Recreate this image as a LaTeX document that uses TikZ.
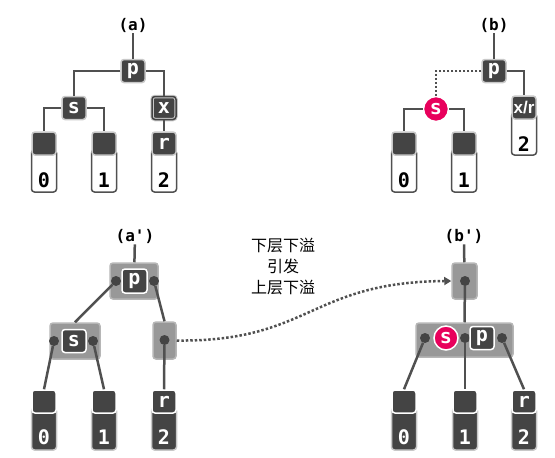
\documentclass[tikz,border=0pt]{standalone}
\usepackage{fontspec}
\setmonofont{DejaVu Sans Mono}
\newfontfamily\cjk{Noto Sans CJK SC}
\newfontfamily\narrow{Liberation Sans}
\usetikzlibrary{arrows.meta}
\definecolor{keyfill}{RGB}{68,68,68}
\definecolor{rim}{RGB}{200,200,200}
\definecolor{grpfill}{RGB}{152,152,152}
\definecolor{grprim}{RGB}{182,182,182}
\definecolor{wirec}{RGB}{80,80,80}
\definecolor{hot}{RGB}{232,0,92}
\tikzset{
  key/.style={draw=rim, fill=keyfill, line width=1.5pt, rounded corners=3pt,
    minimum width=24pt, minimum height=23pt, inner sep=0pt, text=white,
    font=\ttfamily\bfseries\fontsize{20}{20}\selectfont},
  keyw/.style={key, draw=white},
  slot/.style={draw=wirec, fill=white, line width=1.5pt, rounded corners=3pt,
    minimum width=25pt, inner sep=0pt},
  slotd/.style={draw=rim, fill=keyfill, line width=1.5pt, rounded corners=3pt,
    minimum width=25pt, inner sep=0pt},
  digit/.style={inner sep=0pt, font=\ttfamily\bfseries\fontsize{20}{20}\selectfont},
  tag/.style={inner sep=1pt, font=\ttfamily\bfseries\fontsize{16}{16}\selectfont},
  grp/.style={draw=grprim, fill=grpfill, line width=1.5pt, rounded corners=3pt,
    inner sep=0pt},
  dot/.style={circle, fill=wirec!85!black, minimum size=10pt, inner sep=0pt},
  hotc/.style={circle, fill=hot, draw=white, line width=1.5pt, minimum size=25pt,
    inner sep=0pt, text=white, font=\ttfamily\bfseries\fontsize{20}{20}\selectfont},
  wire/.style={draw=wirec, line width=2.5pt},
}
\begin{document}
\begin{tikzpicture}[x=1pt,y=-1pt]
\useasboundingbox (0,0) rectangle (555,458);
% (a)
\node[tag] (la) at (133,25) {(a)};
\node[key] (pa) at (133,71) {p};
\node[key] (sa) at (74,108) {s};
\node[key, line width=1pt, double=keyfill, double distance=1.5pt] (xa) at (164,108) {x};
\foreach \x/\n/\t/\d in {44/a0/{}/0,104/a1/{}/1,164/a2/r/2}{
  \node[slot, minimum height=42pt] (\n-b) at (\x,171) {};
  \node[digit] (\n-d) at (\x,180) {\d};
  \node[key] (\n) at (\x,143.5) {\t};
}
\draw[wire] (la) -- (pa);
\draw[wire] (pa.west) -| (sa.north);
\draw[wire] (pa.east) -| (xa.north);
\draw[wire] (sa.west) -| (a0.north);
\draw[wire] (sa.east) -| (a1.north);
\draw[wire] (xa) -- (a2);
% (b)
\node[tag] (lb) at (494,25) {(b)};
\node[key] (pb) at (494,71) {p};
\node[hotc] (sb) at (436,109) {s};
\foreach \x/\n/\d in {404/b0/0,464/b1/1}{
  \node[slot, minimum height=42pt] (\n-b) at (\x,171) {};
  \node[digit] (\n-d) at (\x,180) {\d};
  \node[key] (\n) at (\x,143.5) {};
}
\node[slot, minimum height=42pt] (b2-b) at (524,134) {};
\node[digit] (b2-d) at (524,144) {2};
\node[key, font=\narrow\bfseries\fontsize{17}{17}\selectfont] (b2) at (524,107.5) {x/r};
\draw[wire] (lb) -- (pb);
\draw[wire, line width=2pt, dash pattern=on 2pt off 2pt] (pb.west) -| (sb.north);
\draw[wire] (pb.east) -| (b2.north);
\draw[wire] (sb.west) -| (b0.north);
\draw[wire] (sb.east) -| (b1.north);
% (a')
\node[tag] (lc) at (135,236) {(a')};
\node[grp, minimum width=48pt, minimum height=36pt] (gp) at (134,281) {};
\node[keyw, minimum width=25pt, minimum height=24pt] (pc) at (134.5,281) {p};
\node[dot] (pcl) at (116,281) {};
\node[dot] (pcr) at (154,281) {};
\node[grp, minimum width=50pt, minimum height=36pt] (gs) at (75,341) {};
\node[keyw] (sc) at (74,341) {s};
\node[dot] (scl) at (54,341) {};
\node[dot] (scr) at (93,341) {};
\node[grp, minimum width=23pt, minimum height=37pt] (gr) at (164.5,340.5) {};
\node[dot] (rc) at (164.5,340) {};
\foreach \x/\n/\t/\d in {44/c0/{}/0,104/c1/{}/1,164/c2/r/2}{
  \node[slotd, minimum height=42pt] (\n-b) at (\x,429) {};
  \node[digit, text=white] (\n-d) at (\x,437) {\d};
  \node[keyw] (\n) at (\x,401.5) {\t};
}
\draw[wire] (lc) -- (gp);
\draw[wire] (pcl) -- (gs.north);
\draw[wire] (pcr) -- (gr.north);
\draw[wire] (scl) -- (c0.north);
\draw[wire] (scr) -- (c1.north);
\draw[wire] (rc) -- (c2.north);
% (b')
\node[tag] (ld) at (464,236) {(b')};
\node[grp, minimum width=25pt, minimum height=36pt] (gt) at (464.5,281) {};
\node[dot] (td) at (465,281) {};
\node[grp, minimum width=97pt, minimum height=34pt] (gw) at (464.5,340) {};
\node[dot] (wd0) at (425,338) {};
\node[hotc, minimum size=24pt] (sd) at (446,338) {s};
\node[dot] (wd1) at (465,338) {};
\node[keyw] (pd) at (482,338) {p};
\node[dot] (wd2) at (502,338) {};
\foreach \x/\n/\t/\d in {404/d0/{}/0,465/d1/{}/1,524/d2/r/2}{
  \node[slotd, minimum height=42pt] (\n-b) at (\x,429) {};
  \node[digit, text=white] (\n-d) at (\x,437) {\d};
  \node[keyw] (\n) at (\x,401.5) {\t};
}
\draw[wire] (ld) -- (gt);
\draw[wire] (td) -- (gw.north);
\draw[wire] (wd0) -- (d0.north);
\draw[wire] (wd1) -- (d1.north);
\draw[wire] (wd2) -- (d2.north);
% overflow
\node[align=center, font=\cjk\fontsize{16}{21}\selectfont] (note) at (283,266)
  {下层下溢\\引发\\上层下溢};
\draw[wire, dash pattern=on 2.5pt off 2pt, -{Triangle[length=7pt,width=8pt]}]
  (gr.east) .. controls (310,342) and (310,282) .. (gt.west);
\end{tikzpicture}
\end{document}
